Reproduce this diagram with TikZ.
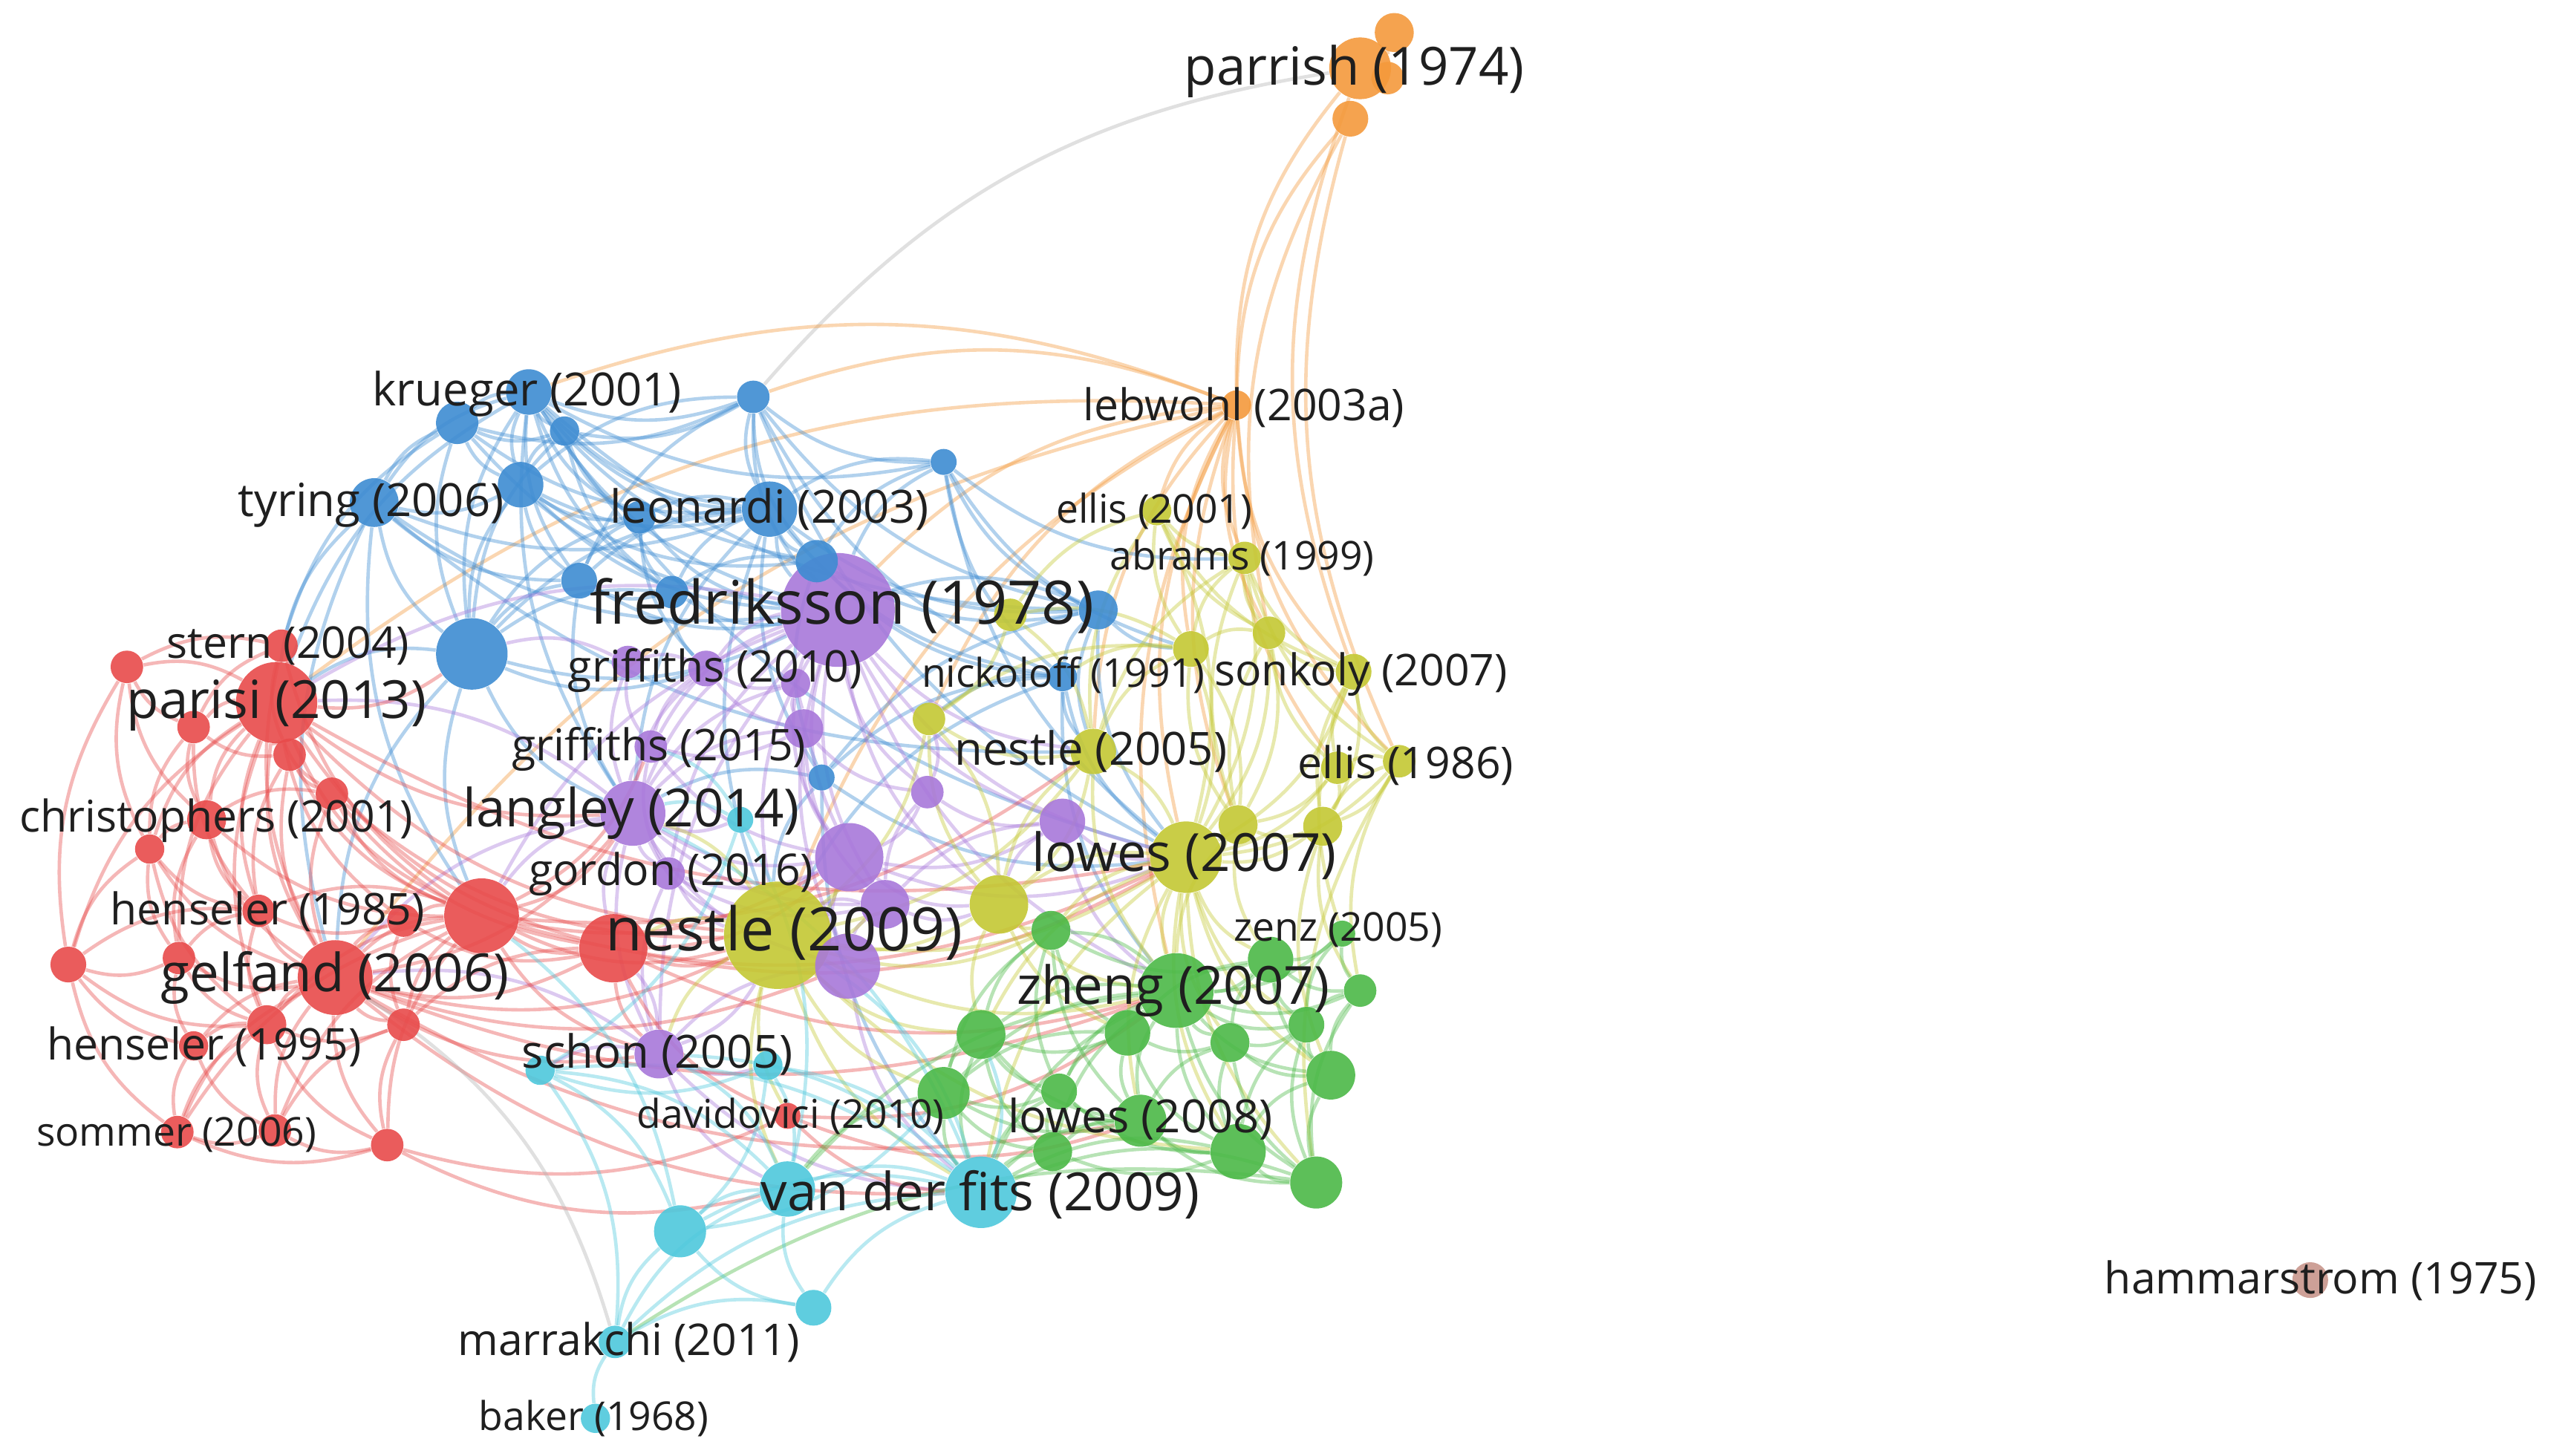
\documentclass[tikz,border=0pt]{standalone}
\usepackage{fontspec}
\setmainfont{Open Sans}
\definecolor{vRed}{RGB}{232,75,75}
\definecolor{vGreen}{RGB}{76,185,72}
\definecolor{vBlue}{RGB}{62,140,210}
\definecolor{vYellow}{RGB}{196,200,52}
\definecolor{vPurple}{RGB}{168,120,218}
\definecolor{vCyan}{RGB}{78,200,220}
\definecolor{vOrange}{RGB}{244,154,60}
\definecolor{vBrown}{RGB}{200,150,140}
\pgfdeclarelayer{bg}
\pgfdeclarelayer{edges}
\pgfsetlayers{bg,edges,main}
\tikzset{
  bub/.style={circle, inner sep=0pt, minimum size=#1*0.04cm, fill opacity=0.9},
  bubR/.style={bub=#1, fill=vRed},
  bubG/.style={bub=#1, fill=vGreen},
  bubB/.style={bub=#1, fill=vBlue},
  bubY/.style={bub=#1, fill=vYellow},
  bubP/.style={bub=#1, fill=vPurple},
  bubC/.style={bub=#1, fill=vCyan},
  bubO/.style={bub=#1, fill=vOrange},
  bubN/.style={bub=#1, fill=vBrown},
  lnk/.style={every edge/.style={draw=#1, line width=1.2pt, draw opacity=0.4, bend right=20}},
  lbl/.style={text=black!88, inner sep=0pt, text height=1.2em, text depth=0.12em},
  lblA/.style={lbl, font=\fontsize{21}{24}\selectfont},
  lblB/.style={lbl, font=\fontsize{18.4}{21}\selectfont},
  lblC/.style={lbl, font=\fontsize{16}{18}\selectfont},
  lblD/.style={lbl, font=\fontsize{15.3}{17}\selectfont},
  lblE/.style={lbl, font=\fontsize{13.9}{16}\selectfont}
}
\begin{document}
\begin{tikzpicture}[x=0.02cm, y=-0.02cm]
  \useasboundingbox (0,0) rectangle (1568,895);
  \begin{pgfonlayer}{bg}
    \fill[white] (0,0) rectangle (1568,895);
  \end{pgfonlayer}

  % big items first
  \node[bubP=35] (fredriksson) at (515,375) {};
  \node[bubY=33] (nestle09) at (478,575) {};
  \node[bubR=25] (parisi) at (170,432) {};
  \node[bubR=23] (rF) at (296,563) {};
  \node[bubR=23] (gelfand) at (206,601) {};
  \node[bubG=23] (zheng) at (723,609) {};
  \node[bubY=22] (lowes07) at (729,527) {};
  \node[bubC=22] (vanderfits) at (603,733) {};
  \node[bubB=22] (bK) at (290,402) {};
  \node[bubP=21] (pF) at (522,527) {};
  \node[bubR=21] (rJ) at (377,583) {};
  \node[bubP=20] (langley) at (389,500) {};
  \node[bubP=20] (pJ) at (521,594) {};
  \node[bubO=19] (parrish) at (836,42) {};
  \node[bubO=10] (parrishC) at (853,48) {};
  \node[bubO=12] (parrishA) at (857,20) {};
  \node[bubO=11] (parrishB) at (830,73) {};
  \node[bubO=9] (lebwohl) at (760,249) {};

  % blue
  \node[bubB=14] (krueger) at (325,241) {};
  \node[bubB=13] (bA) at (281,260) {};
  \node[bubB=9] (bB) at (347,265) {};
  \node[bubB=10] (bC) at (463,244) {};
  \node[bubB=8] (bD) at (580,284) {};
  \node[bubB=15] (tyring) at (230,309) {};
  \node[bubB=14] (bE) at (320,298) {};
  \node[bubB=17] (leonardi) at (473,313) {};
  \node[bubB=10] (bF) at (393,318) {};
  \node[bubB=13] (bG) at (502,345) {};
  \node[bubB=11] (bH) at (356,357) {};
  \node[bubB=10] (bI) at (413,364) {};
  \node[bubB=12] (bJ) at (675,375) {};
  \node[bubB=9] (nickoloff) at (653,416) {};
  \node[bubB=8] (bL) at (505,478) {};

  % purple
  \node[bubP=10] (pA) at (386,407) {};
  \node[bubP=11] (griffiths10) at (434,411) {};
  \node[bubP=9] (pC) at (489,420) {};
  \node[bubP=12] (pE) at (494,448) {};
  \node[bubP=10] (griffiths15) at (400,459) {};
  \node[bubP=10] (gordon) at (411,537) {};
  \node[bubP=10] (pG) at (570,487) {};
  \node[bubP=14] (pH) at (653,505) {};
  \node[bubP=15] (pI) at (544,556) {};
  \node[bubP=15] (schon) at (405,648) {};

  % red
  \node[bubR=10] (stern) at (173,397) {};
  \node[bubR=10] (rA) at (78,410) {};
  \node[bubR=10] (rB) at (119,447) {};
  \node[bubR=10] (rC) at (178,464) {};
  \node[bubR=10] (rD) at (204,488) {};
  \node[bubR=12] (christophers) at (127,504) {};
  \node[bubR=9] (rE) at (92,522) {};
  \node[bubR=10] (henseler85) at (159,560) {};
  \node[bubR=10] (rG) at (248,566) {};
  \node[bubR=11] (rH) at (42,593) {};
  \node[bubR=10] (rI) at (110,589) {};
  \node[bubR=12] (rK) at (164,630) {};
  \node[bubR=10] (rL) at (248,630) {};
  \node[bubR=9] (henseler95) at (119,643) {};
  \node[bubR=10] (sommer) at (109,696) {};
  \node[bubR=10] (rM) at (169,695) {};
  \node[bubR=10] (rN) at (238,704) {};
  \node[bubR=8] (davidovici) at (484,686) {};

  % yellow
  \node[bubY=12] (yA) at (761,507) {};
  \node[bubY=12] (yB) at (813,508) {};
  \node[bubY=18] (yC) at (614,556) {};
  \node[bubY=9] (ellis01) at (711,314) {};
  \node[bubY=10] (abrams) at (765,343) {};
  \node[bubY=10] (yD) at (780,389) {};
  \node[bubY=11] (yE) at (732,399) {};
  \node[bubY=11] (sonkoly) at (832,413) {};
  \node[bubY=10] (yF) at (571,442) {};
  \node[bubY=14] (nestle05) at (672,462) {};
  \node[bubY=10] (ellis86) at (860,468) {};
  \node[bubY=10] (yG) at (822,472) {};
  \node[bubY=10] (yH) at (621,378) {};

  % green
  \node[bubG=12] (gA) at (646,572) {};
  \node[bubG=8] (zenz) at (825,574) {};
  \node[bubG=14] (gB) at (781,590) {};
  \node[bubG=10] (gC) at (836,609) {};
  \node[bubG=15] (gD) at (603,636) {};
  \node[bubG=14] (gE) at (693,635) {};
  \node[bubG=12] (gF) at (756,641) {};
  \node[bubG=11] (gG) at (803,630) {};
  \node[bubG=15] (gH) at (818,661) {};
  \node[bubG=16] (gI) at (580,672) {};
  \node[bubG=11] (gJ) at (651,671) {};
  \node[bubG=16] (lowes08) at (701,689) {};
  \node[bubG=12] (gK) at (647,708) {};
  \node[bubG=17] (gL) at (761,708) {};
  \node[bubG=16] (gM) at (809,727) {};

  % cyan
  \node[bubC=17] (cA) at (484,731) {};
  \node[bubC=9] (cB) at (332,658) {};
  \node[bubC=9] (cC) at (472,655) {};
  \node[bubC=8] (cD) at (455,504) {};
  \node[bubC=16] (cE) at (418,757) {};
  \node[bubC=11] (cF) at (500,804) {};
  \node[bubC=10] (marrakchi) at (378,825) {};
  \node[bubC=9] (baker) at (366,872) {};

  \node[bubN=11] (hammarstrom) at (1420,787) {};

  \begin{pgfonlayer}{edges}
    % orange links
    \path[lnk=vOrange] (parrish) edge (parrishA) edge (parrishC) edge (lebwohl) edge (sonkoly) edge[draw=black!30] (bC);
    \path[lnk=vOrange] (parrishB) edge (lebwohl) edge (ellis86) edge (yD);
    \path[lnk=vOrange] (lebwohl) edge (ellis01) edge (abrams) edge (yE) edge (yD) edge (sonkoly) edge (ellis86) edge (lowes07) edge (nestle05) edge (fredriksson) edge (parisi) edge (bC) edge (krueger) edge (yA) edge (zheng) edge (nestle09) edge (yG) edge (yF) edge (gelfand);
    % blue links
    \path[lnk=vBlue] (krueger) edge (bA) edge (bB) edge (bC) edge (tyring) edge (bE) edge (leonardi) edge (bF) edge (bG) edge (bH) edge (bI) edge (fredriksson) edge (bK) edge (bD) edge (parisi) edge (langley) edge (bJ) edge (lowes07);
    \path[lnk=vBlue] (bA) edge (tyring) edge (bB) edge (bE) edge (bK) edge (leonardi) edge (bC) edge (fredriksson) edge (stern);
    \path[lnk=vBlue] (bB) edge (bC) edge (bE) edge (leonardi) edge (bF) edge (bI) edge (bK);
    \path[lnk=vBlue] (bC) edge (bD) edge (leonardi) edge (bG) edge (fredriksson) edge (bE) edge (bJ) edge (nickoloff) edge (lowes07) edge (bH);
    \path[lnk=vBlue] (bD) edge (leonardi) edge (bG) edge (fredriksson) edge (bJ) edge (nickoloff) edge (abrams) edge (yE) edge (lowes07);
    \path[lnk=vBlue] (tyring) edge (bE) edge (bK) edge (leonardi) edge (bH) edge (parisi) edge (fredriksson) edge (gelfand) edge (rF) edge (nestle05);
    \path[lnk=vBlue] (bE) edge (leonardi) edge (bF) edge (bK) edge (bH) edge (fredriksson) edge (bG);
    \path[lnk=vBlue] (leonardi) edge (bF) edge (bG) edge (bH) edge (bI) edge (fredriksson) edge (bJ) edge (nickoloff) edge (bK) edge (bL) edge (langley) edge (nestle09);
    \path[lnk=vBlue] (bF) edge (bH) edge (bI) edge (fredriksson) edge (bK) edge (griffiths10);
    \path[lnk=vBlue] (bG) edge (fredriksson) edge (bJ) edge (bI) edge (nickoloff) edge (bL);
    \path[lnk=vBlue] (bH) edge (bK) edge (bI) edge (langley) edge (fredriksson);
    \path[lnk=vBlue] (bI) edge (fredriksson) edge (bK) edge (griffiths10);
    \path[lnk=vBlue] (bJ) edge (nickoloff) edge (fredriksson) edge (yE) edge (lowes07) edge (nestle05) edge (bL);
    \path[lnk=vBlue] (bK) edge (parisi) edge (fredriksson) edge (langley) edge (gelfand) edge (rF) edge (griffiths10);
    \path[lnk=vBlue] (nickoloff) edge (bL) edge (nestle05) edge (lowes07) edge (nestle09) edge (yF) edge (zheng);
    \path[lnk=vBlue] (bL) edge (nestle09) edge (langley) edge (vanderfits) edge (lowes07);
    % purple links
    \path[lnk=vPurple] (fredriksson) edge (griffiths10) edge (griffiths15) edge (pE) edge (langley) edge (gordon) edge (pF) edge (pG) edge (pH) edge (pI) edge (pJ) edge (nestle09) edge (schon) edge (lowes07) edge (parisi) edge (rF) edge (zheng) edge (nestle05) edge (yC);
    \path[lnk=vPurple] (griffiths10) edge (griffiths15) edge (langley) edge (pA) edge (pC) edge (pE);
    \path[lnk=vPurple] (pA) edge (langley) edge (bK) edge (griffiths15);
    \path[lnk=vPurple] (pC) edge (pE) edge (pF) edge (langley);
    \path[lnk=vPurple] (griffiths15) edge (langley) edge (gordon) edge (pE) edge (pF);
    \path[lnk=vPurple] (pE) edge (langley) edge (pF) edge (pG) edge (pI);
    \path[lnk=vPurple] (langley) edge (gordon) edge (pF) edge (pI) edge (pJ) edge (nestle09) edge (schon) edge (rF) edge (rJ) edge (gelfand) edge (parisi) edge (cD);
    \path[lnk=vPurple] (gordon) edge (pF) edge (pI) edge (nestle09) edge (schon);
    \path[lnk=vPurple] (pF) edge (pG) edge (pH) edge (pI) edge (pJ) edge (nestle09) edge (lowes07) edge (yC);
    \path[lnk=vPurple] (pG) edge (pH) edge (pI) edge (yF);
    \path[lnk=vPurple] (pH) edge (lowes07) edge (pI) edge (yC) edge (zheng);
    \path[lnk=vPurple] (pI) edge (pJ) edge (nestle09) edge (yC);
    \path[lnk=vPurple] (pJ) edge (nestle09) edge (schon) edge (vanderfits);
    \path[lnk=vPurple] (schon) edge (cB) edge (cC) edge (nestle09) edge (rJ) edge (gelfand) edge (cA) edge (vanderfits);
    % red links
    \path[lnk=vRed] (parisi) edge (stern) edge (rA) edge (rB) edge (rC) edge (rD) edge (christophers) edge (rE) edge (rF) edge (henseler85) edge (gelfand) edge (rJ) edge (rH) edge (rI) edge (rK) edge (rG) edge (langley) edge (nestle09) edge (bK) edge (lowes07);
    \path[lnk=vRed] (stern) edge (rA) edge (rB) edge (rC) edge (rF) edge (gelfand);
    \path[lnk=vRed] (rA) edge (rB) edge (rH) edge (christophers) edge (rE);
    \path[lnk=vRed] (rB) edge (christophers) edge (rE) edge (rC) edge (henseler85);
    \path[lnk=vRed] (rC) edge (rD) edge (rF) edge (gelfand) edge (henseler85);
    \path[lnk=vRed] (rD) edge (rF) edge (gelfand) edge (christophers) edge (rJ) edge (nestle09);
    \path[lnk=vRed] (christophers) edge (rE) edge (henseler85) edge (gelfand) edge (rF) edge (rI);
    \path[lnk=vRed] (rE) edge (rH) edge (rI) edge (henseler85) edge (gelfand) edge (rK);
    \path[lnk=vRed] (rF) edge (henseler85) edge (gelfand) edge (rG) edge (rJ) edge (nestle09) edge (langley) edge (rK) edge (rL) edge (sommer) edge (rM) edge (rN) edge (schon) edge (griffiths15) edge (pF) edge (nestle05) edge (lowes07);
    \path[lnk=vRed] (henseler85) edge (gelfand) edge (rG) edge (rI) edge (rH) edge (rK);
    \path[lnk=vRed] (rG) edge (gelfand) edge (rJ) edge (rL);
    \path[lnk=vRed] (rH) edge (rI) edge (henseler95) edge (sommer) edge (rK);
    \path[lnk=vRed] (rI) edge (gelfand) edge (rK) edge (henseler95);
    \path[lnk=vRed] (gelfand) edge (rJ) edge (rK) edge (rL) edge (henseler95) edge (sommer) edge (rM) edge (rN) edge (nestle09) edge (langley) edge (schon) edge (pJ) edge (vanderfits) edge (zheng) edge (lowes08);
    \path[lnk=vRed] (rJ) edge (nestle09) edge (rL) edge (schon) edge (pF) edge (lowes07) edge (davidovici) edge (zheng);
    \path[lnk=vRed] (rK) edge (henseler95) edge (sommer) edge (rM) edge (rL) edge (rN);
    \path[lnk=vRed] (rL) edge (rN) edge (rM);
    \path[lnk=vRed] (henseler95) edge (sommer) edge (rM);
    \path[lnk=vRed] (sommer) edge (rM) edge (rN);
    \path[lnk=vRed] (rM) edge (rN);
    \path[lnk=vRed] (rN) edge (davidovici) edge (cA);
    \path[lnk=vRed] (davidovici) edge (lowes08) edge (zheng) edge (vanderfits);
    % yellow links
    \path[lnk=vYellow] (nestle09) edge (yC) edge (lowes07) edge (nestle05) edge (pF) edge (pI) edge (pJ) edge (zheng) edge (gA) edge (gD) edge (gI) edge (vanderfits) edge (cA) edge (schon) edge (yF) edge (rJ) edge (langley) edge (davidovici) edge (gL);
    \path[lnk=vYellow] (lowes07) edge (yA) edge (yB) edge (yC) edge (nestle05) edge (yE) edge (yD) edge (sonkoly) edge (abrams) edge (ellis01) edge (yG) edge (ellis86) edge (zheng) edge (gA) edge (gB) edge (gF) edge (gG) edge (gH) edge (gL) edge (gM) edge (lowes08) edge (vanderfits) edge (gD);
    \path[lnk=vYellow] (yA) edge (yB) edge (yG) edge (yE) edge (yD) edge (zheng) edge (gB);
    \path[lnk=vYellow] (yB) edge (yG) edge (sonkoly) edge (ellis86) edge (gC) edge (gH);
    \path[lnk=vYellow] (yC) edge (gA) edge (nestle05) edge (yF) edge (zheng) edge (gD) edge (gE);
    \path[lnk=vYellow] (ellis01) edge (abrams) edge (yE) edge (yD) edge (nestle05) edge (sonkoly) edge (yH);
    \path[lnk=vYellow] (abrams) edge (yD) edge (yE) edge (sonkoly) edge (yA) edge (ellis86) edge (nestle05);
    \path[lnk=vYellow] (yD) edge (yE) edge (sonkoly) edge (yG) edge (yA);
    \path[lnk=vYellow] (yE) edge (nestle05) edge (yH) edge (nickoloff) edge (yF) edge (yA);
    \path[lnk=vYellow] (sonkoly) edge (ellis86) edge (yG) edge (yB) edge (zenz);
    \path[lnk=vYellow] (yF) edge (nestle05) edge (yH) edge (yC);
    \path[lnk=vYellow] (nestle05) edge (yH) edge (yC) edge (zheng);
    \path[lnk=vYellow] (ellis86) edge (yG) edge (yB) edge (gC) edge (gM);
    % green links
    \path[lnk=vGreen] (zheng) edge (gA) edge (zenz) edge (gB) edge (gC) edge (gD) edge (gE) edge (gF) edge (gG) edge (gH) edge (gI) edge (gJ) edge (lowes08) edge (gK) edge (gL) edge (gM) edge (vanderfits) edge (cA);
    \path[lnk=vGreen] (gA) edge (gD) edge (gE) edge (gI) edge (gJ) edge (lowes08) edge (gB);
    \path[lnk=vGreen] (gB) edge (zenz) edge (gC) edge (gG) edge (gF) edge (gH) edge (gE);
    \path[lnk=vGreen] (zenz) edge (gC) edge (gG);
    \path[lnk=vGreen] (gC) edge (gG) edge (gH) edge (gM);
    \path[lnk=vGreen] (gD) edge (gE) edge (gI) edge (gJ) edge (lowes08) edge (gK) edge (vanderfits);
    \path[lnk=vGreen] (gE) edge (gF) edge (gJ) edge (lowes08) edge (gL) edge (gI);
    \path[lnk=vGreen] (gF) edge (gG) edge (gH) edge (gL) edge (lowes08) edge (gM);
    \path[lnk=vGreen] (gG) edge (gH) edge (gL) edge (gM);
    \path[lnk=vGreen] (gH) edge (gL) edge (gM);
    \path[lnk=vGreen] (gI) edge (gJ) edge (gK) edge (vanderfits) edge (cA) edge (lowes08);
    \path[lnk=vGreen] (gJ) edge (lowes08) edge (gK) edge (gL) edge (vanderfits);
    \path[lnk=vGreen] (lowes08) edge (gK) edge (gL) edge (gM) edge (vanderfits);
    \path[lnk=vGreen] (gK) edge (gL) edge (vanderfits);
    \path[lnk=vGreen] (gL) edge (gM) edge (vanderfits);
    \path[lnk=vGreen] (gM) edge (vanderfits) edge (marrakchi);
    % cyan links
    \path[lnk=vCyan] (vanderfits) edge (cA) edge (cE) edge (cF) edge (marrakchi) edge (cB) edge (cC) edge (schon) edge (nestle09) edge (langley) edge (gD);
    \path[lnk=vCyan] (cA) edge (cE) edge (cF) edge (marrakchi) edge (cB) edge (cC) edge (schon) edge (cD);
    \path[lnk=vCyan] (cE) edge (marrakchi) edge (cF) edge (cB) edge (cC) edge (rF) edge (gI);
    \path[lnk=vCyan] (cF) edge (marrakchi);
    \path[lnk=vCyan] (marrakchi) edge (baker) edge (cB) edge[draw=black!30] (gelfand);
    \path[lnk=vCyan] (cB) edge (cC) edge (cD);
    \path[lnk=vCyan] (cD) edge (langley) edge (griffiths15);
  \end{pgfonlayer}

  % labels
  \node[lblB] (parrishL) at (832.5,43) {parrish (1974)};
  \node[lblC] (kruegerL) at (324,240) {krueger (2001)};
  \node[lblD] (lebwohlL) at (764.5,249) {lebwohl (2003a)};
  \node[lblC] (tyringL) at (228,308) {tyring (2006)};
  \node[lblC] (leonardiL) at (473,312) {leonardi (2003)};
  \node[lblE] (ellis01L) at (709.5,312) {ellis (2001)};
  \node[lblE] (abramsL) at (763.5,341) {abrams (1999)};
  \node[lblA] (fredrikssonL) at (517.5,374) {fredriksson (1978)};
  \node[lblD] (sternL) at (177,395) {stern (2004)};
  \node[lblD] (griffiths10L) at (439.5,410) {griffiths (2010)};
  \node[lblE] (nickoloffL) at (653.5,413) {nickoloff (1991)};
  \node[lblD] (sonkolyL) at (836.5,412) {sonkoly (2007)};
  \node[lblB] (parisiL) at (170,432) {parisi (2013)};
  \node[lblD] (griffiths15L) at (405,458) {griffiths (2015)};
  \node[lblC] (nestle05L) at (670.5,461) {nestle (2005)};
  \node[lblD] (ellis86L) at (864,469) {ellis (1986)};
  \node[lblD] (christophersL) at (133,502) {christophers (2001)};
  \node[lblB] (langleyL) at (388,499) {langley (2014)};
  \node[lblB] (lowes07L) at (728,526) {lowes (2007)};
  \node[lblD] (gordonL) at (412.5,535) {gordon (2016)};
  \node[lblD] (henseler85L) at (164.5,559) {henseler (1985)};
  \node[lblA] (nestle09L) at (482,575) {nestle (2009)};
  \node[lblE] (zenzL) at (822.5,569) {zenz (2005)};
  \node[lblB] (gelfandL) at (206,600) {gelfand (2006)};
  \node[lblB] (zhengL) at (721,608) {zheng (2007)};
  \node[lblD] (henseler95L) at (125.5,642) {henseler (1995)};
  \node[lblC] (schonL) at (404,647) {schon (2005)};
  \node[lblE] (davidoviciL) at (486,684) {davidovici (2010)};
  \node[lblC] (lowes08L) at (701,687) {lowes (2008)};
  \node[lblE] (sommerL) at (108.5,695) {sommer (2006)};
  \node[lblB] (vanderfitsL) at (602.5,735) {van der fits (2009)};
  \node[lblD] (marrakchiL) at (386.5,824) {marrakchi (2011)};
  \node[lblE] (bakerL) at (365,870) {baker (1968)};
  \node[lblD] (hammarstromL) at (1426.5,786) {hammarstrom (1975)};
\end{tikzpicture}
\end{document}
